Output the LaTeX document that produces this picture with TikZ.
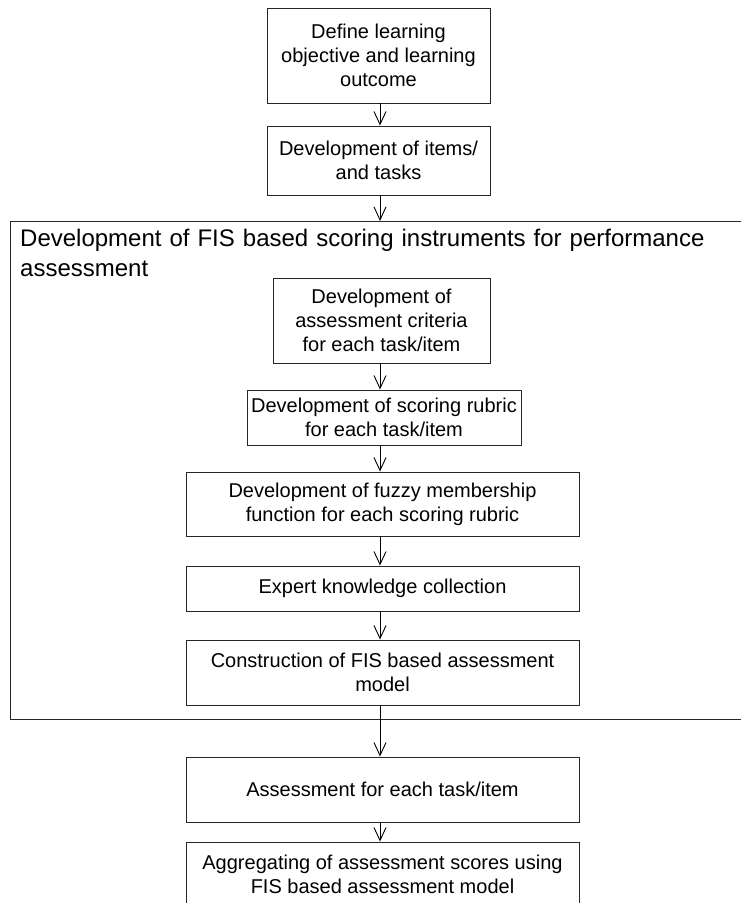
\documentclass[tikz,border=0pt]{standalone}
\usepackage{fontspec}
\setmainfont{Liberation Sans}
\usetikzlibrary{arrows.meta}
\begin{document}
\begin{tikzpicture}[x=1pt,y=-1pt,
  stepbox/.style={draw=black!85, line width=0.9pt, inner sep=0pt, align=center,
    font=\fontsize{20}{24}\selectfont},
  flow/.style={draw=black, line width=0.9pt, -{Straight Barb[length=13pt,width=12pt,line width=0.9pt]}}]
\useasboundingbox (0,0) rectangle (740,903);
\node[stepbox, minimum width=223, minimum height=95] (b1) at (378.5,55.5)
  {Define learning\\objective and learning\\outcome};
\node[stepbox, minimum width=223, minimum height=69] (b2) at (378.5,160.5)
  {Development of items/\\and tasks};
\draw[line width=0.9pt, draw=black!85] (743,221) -- (10,221) -- (10,719) -- (743,719);
\coordinate (otop) at (380,221);
\node[anchor=north west, inner sep=0pt, align=left, text width=710,
  font=\fontsize{24}{30}\selectfont] (title) at (20,229)
  {Development of FIS based scoring instruments for performance\\assessment};
\node[stepbox, minimum width=217, minimum height=85] (c1) at (381.5,320.5)
  {Development of\\assessment criteria\\for each task/item};
\node[stepbox, minimum width=274, minimum height=55] (c2) at (384,417.5)
  {Development of scoring rubric\\for each task/item};
\node[stepbox, minimum width=393, minimum height=64] (c3) at (382.5,504)
  {Development of fuzzy membership\\function for each scoring rubric};
\node[stepbox, minimum width=393, minimum height=45] (c4) at (382.5,588.5)
  {Expert knowledge collection};
\node[stepbox, minimum width=393, minimum height=65] (c5) at (382.5,672.5)
  {Construction of FIS based assessment\\model};
\node[stepbox, minimum width=393, minimum height=65] (d1) at (382.5,789.5)
  {Assessment for each task/item};
\node[stepbox, minimum width=393, minimum height=64, text depth=0pt] (d2) at (382.5,874)
  {Aggregating of assessment scores using\\FIS based assessment model};
\draw[flow] (b1.south -| 380,0) -- (b2.north -| 380,0);
\draw[flow] (b2.south -| 380,0) -- (otop);
\draw[flow] (c1.south -| 380,0) -- (c2.north -| 380,0);
\draw[flow] (c2.south -| 380,0) -- (c3.north -| 380,0);
\draw[flow] (c3.south -| 380,0) -- (c4.north -| 380,0);
\draw[flow] (c4.south -| 380,0) -- (c5.north -| 380,0);
\draw[flow] (c5.south -| 380,0) -- (d1.north -| 380,0);
\draw[flow] (d1.south -| 380,0) -- (d2.north -| 380,0);
\end{tikzpicture}
\end{document}
